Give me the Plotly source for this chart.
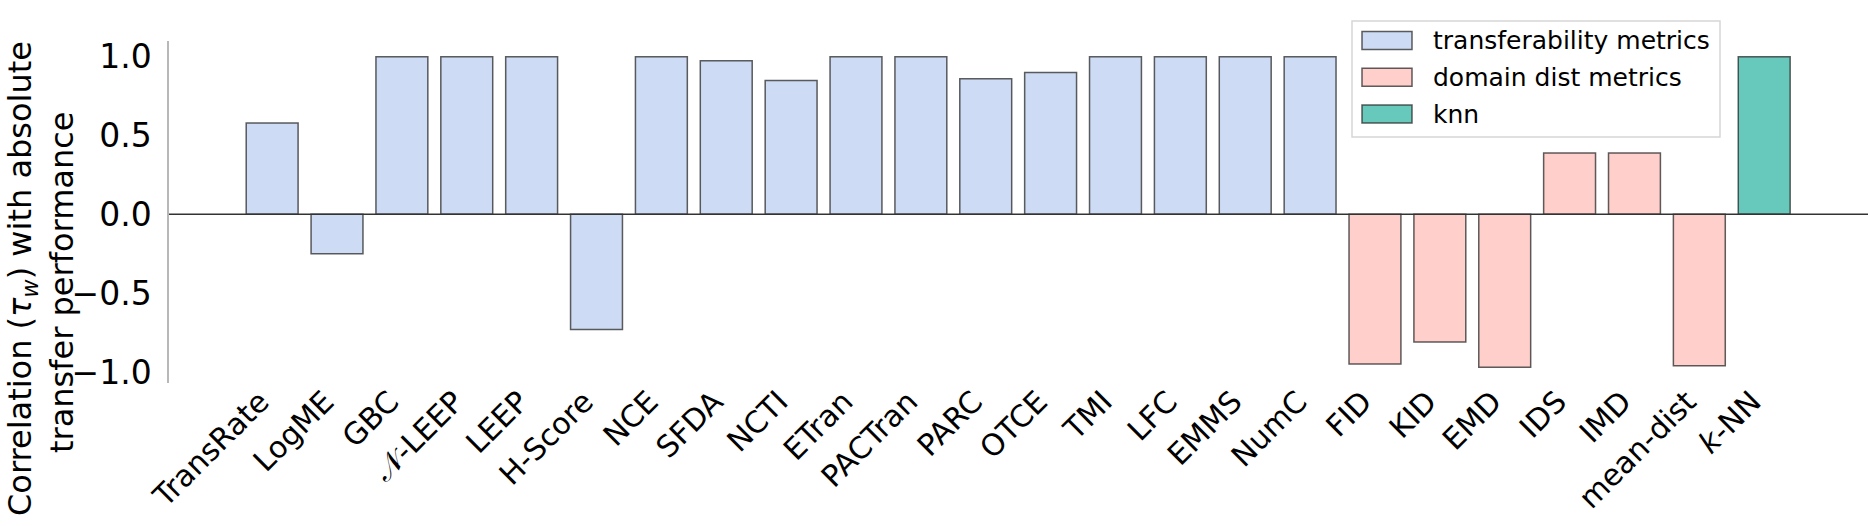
import plotly.graph_objects as go

# ---------------- data ----------------
transfer_names = ["TransRate", "LogME", "GBC", "𝒩-LEEP", "LEEP", "H-Score", "NCE", "SFDA",
                  "NCTI", "ETran", "PACTran", "PARC", "OTCE", "TMI", "LFC", "EMMS", "NumC"]
transfer_vals = [0.58, -0.25, 1.0, 1.0, 1.0, -0.73, 1.0, 0.975, 0.85, 1.0, 1.0, 0.86, 0.90,
                 1.0, 1.0, 1.0, 1.0]
domain_names = ["FID", "KID", "EMD", "IDS", "IMD", "mean-dist"]
domain_vals = [-0.95, -0.81, -0.97, 0.39, 0.39, -0.96]
knn_names = ["<i>k</i>-NN"]
knn_vals = [1.0]

legend_labels = ["transferability metrics", "domain dist metrics", "knn"]
colors = ["#cddcf4", "#ffcfcc", "#66c9bb"]
yticks = [-1.0, -0.5, 0.0, 0.5, 1.0]
ytitle_lines = ["Correlation (<i>τ</i><sub><i>w</i></sub>) with absolute", "transfer performance"]

# ---------------- figure ----------------
W, H = 1868, 526
L, R, T, B = 169, 0, 41, 143
FONT = "DejaVu Sans"

all_names = transfer_names + domain_names + knn_names
groups = [(transfer_names, transfer_vals), (domain_names, domain_vals), (knn_names, knn_vals)]

fig = go.Figure()
start = 0
for (names, vals), lab, col in zip(groups, legend_labels, colors):
    xs = list(range(start, start + len(names)))
    start += len(names)
    fig.add_trace(go.Bar(x=xs, y=vals, name=lab, width=0.8,
                         marker=dict(color=col, line=dict(color="rgba(40,40,40,0.75)", width=1.5)),
                         showlegend=False))

fig.update_layout(
    width=W, height=H,
    margin=dict(l=L, r=R, t=T, b=B, pad=0),
    paper_bgcolor="white", plot_bgcolor="white",
    barmode="overlay", showlegend=False,
    font=dict(family=FONT, size=30, color="black"),
    xaxis=dict(range=[-1.59, 24.6], tickmode="array", tickvals=list(range(len(all_names))),
               ticktext=all_names, tickangle=-45, showline=False, showgrid=False,
               zeroline=False, ticks="", tickfont=dict(size=30), automargin=False,
               ticklabelshift=-12, ticklabelstandoff=-6),
    yaxis=dict(range=[-1.07, 1.10], tickmode="array", tickvals=yticks,
               ticktext=[("−" if v < 0 else "") + f"{abs(v):.1f}" for v in yticks],
               showline=True, linecolor="#b8b8b8", linewidth=1.5, showgrid=False,
               zeroline=False, ticks="", ticklabelstandoff=9, tickfont=dict(size=33),
               automargin=False),
)

# zero line across the plot
fig.add_shape(type="line", xref="paper", yref="y", x0=0, x1=1, y0=0, y1=0,
              line=dict(color="#333333", width=1.5), layer="above")

pw, ph = W - L - R, H - T - B
def px(x):
    return (x - L) / pw
def py(y):
    return (H - B - y) / ph

# y-axis title (two lines)
for txt, cx, cy in zip(ytitle_lines, [22, 62], [279, 283]):
    fig.add_annotation(text=txt, xref="paper", yref="paper", x=px(cx), y=py(cy),
                       xanchor="center", yanchor="middle", textangle=-90, showarrow=False,
                       font=dict(size=32))

# legend drawn as shapes + text
fig.add_shape(type="rect", xref="paper", yref="paper", x0=px(1352), x1=px(1720), y0=py(21), y1=py(137),
              line=dict(color="#d6d6d6", width=1.5), fillcolor="rgba(255,255,255,0.85)", layer="above")
for i, (lab, col) in enumerate(zip(legend_labels, colors)):
    yc = 40.5 + i * 36.8
    fig.add_shape(type="rect", xref="paper", yref="paper", x0=px(1362), x1=px(1412),
                  y0=py(yc - 9), y1=py(yc + 9), fillcolor=col,
                  line=dict(color="rgba(40,40,40,0.75)", width=1.5), layer="above")
    fig.add_annotation(text=lab, xref="paper", yref="paper", x=px(1431), y=py(yc),
                       xanchor="left", yanchor="middle", showarrow=False, font=dict(size=25))

fig.write_html("out.html", config={"displayModeBar": False},
               post_script="document.body.style.margin='0';document.body.style.padding='0';")
